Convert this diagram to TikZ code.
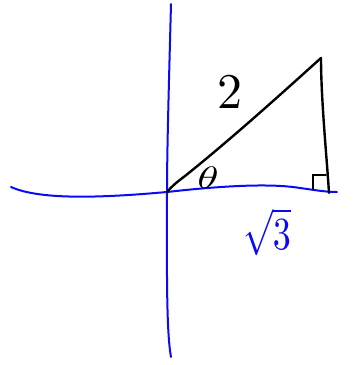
\documentclass[tikz,border=0pt]{standalone}
\usepackage{amsmath}
\begin{document}
\begin{tikzpicture}[x=1pt,y=-1pt,
  axis/.style={draw={rgb,255:red,10;green,10;blue,245},line width=2pt,line cap=round},
  tri/.style={draw=black,line width=2.4pt,line cap=round,line join=round},
  lbl/.style={inner sep=0pt},
  bluelbl/.style={inner sep=0pt,text={rgb,255:red,10;green,10;blue,245}}]
\useasboundingbox (0,0) rectangle (358,365);
% axes
\coordinate (vtop) at (171,4);
\coordinate (vbot) at (171,357);
\coordinate (hl) at (11,187);
\coordinate (hr) at (337,192);
\coordinate (O) at (167,192);
\draw[axis] (vtop) .. controls (169,80) and (167,150) .. (O)
  .. controls (167,260) and (166,330) .. (vbot);
\draw[axis] (hl) .. controls (40,200) and (100,198) .. (O)
  .. controls (220,186) and (270,183) .. (300,188)
  .. controls (315,190) and (325,192) .. (hr);
% triangle
\coordinate (A) at (321,58);
\coordinate (B) at (329,193);
\draw[tri] (O) .. controls (172,186) and (177,182) .. (185,176)
  .. controls (230,140) and (280,95) .. (A);
\draw[tri] (A) .. controls (321,100) and (327,160) .. (B);
% right angle mark
\coordinate (r1) at (313,189);
\coordinate (r2) at (313,175);
\coordinate (r3) at (326,175);
\draw[black,line width=1.8pt,line cap=round] (r1) -- (r2) -- (r3);
% labels
\node[lbl,scale=5] (two) at (230,92) {2};
\node[lbl,xscale=4.3,yscale=3.1] (th) at (208,178) {$\theta$};
\node[bluelbl,xscale=3.6,yscale=4.6] (r3l) at (267,232) {$\sqrt{3}$};
\end{tikzpicture}
\end{document}
